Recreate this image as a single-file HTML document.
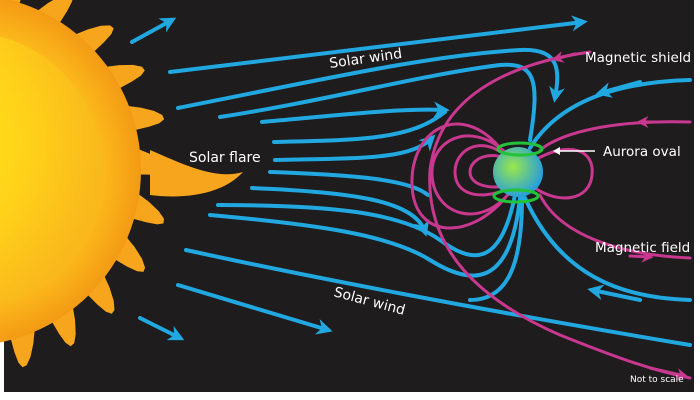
<!DOCTYPE html>
<html><head><meta charset="utf-8"><style>
html,body{margin:0;padding:0;background:#fff}
svg{display:block}
text{font-family:"DejaVu Sans","Liberation Sans",sans-serif;fill:#fff}
</style></head><body>
<svg width="700" height="400" viewBox="0 0 700 400">
<defs>
<radialGradient id="sunG" cx="0.3" cy="0.4" r="0.7"><stop offset="0" stop-color="#fff21a"/><stop offset="0.6" stop-color="#ffd21a"/><stop offset="1" stop-color="#f9b81c"/></radialGradient>
<radialGradient id="flG" cx="0.5" cy="0.5" r="0.5"><stop offset="0.7" stop-color="#ffc41e"/><stop offset="1" stop-color="#f39a14"/></radialGradient>
<radialGradient id="earthG" cx="0.4" cy="0.4" r="0.6"><stop offset="0" stop-color="#9be84a"/><stop offset="1" stop-color="#2aa0d8"/></radialGradient>
<marker id="ab" viewBox="0 0 10 10" refX="7" refY="5" markerWidth="4" markerHeight="4" orient="auto"><path d="M0,0 L10,5 L0,10 L3,5z" fill="#22a8e0"/></marker>
<marker id="am" viewBox="0 0 10 10" refX="7" refY="5" markerWidth="4" markerHeight="4" orient="auto"><path d="M0,0 L10,5 L0,10 L3,5z" fill="#c8388f"/></marker>
</defs>
<rect x="0" y="0" width="700" height="400" fill="#fff"/>
<rect x="4" y="0" width="690" height="392" fill="#1e1c1d"/>
<g id="sun"></g>
<g fill="none" stroke="#22a8e0" stroke-width="4" stroke-linecap="round">
<path d="M132,42 L172,20" marker-end="url(#ab)"/>
<path d="M170,72 L583,22" marker-end="url(#ab)"/>
<path d="M178,108 C320,80 430,55 520,50 C560,48 560,70 555,98" marker-end="url(#ab)"/>
<path d="M220,117 C330,100 420,75 500,65 C535,62 540,80 530,140"/>
<path d="M262,122 C340,115 400,108 445,110" marker-end="url(#ab)"/>
<path d="M274,142 C360,140 410,140 445,112"/>
<path d="M275,160 C360,158 410,160 432,138" marker-end="url(#ab)"/>
<path d="M270,172 C360,175 410,180 428,195" />
<path d="M252,188 C350,192 415,200 425,232" marker-end="url(#ab)"/>
<path d="M218,205 C330,205 400,212 440,240 C470,262 500,270 515,195"/>
<path d="M210,215 C320,225 390,235 430,260 C470,285 510,290 520,198"/>
<path d="M186,250 C300,275 480,310 690,345"/>
<path d="M178,285 L328,330" marker-end="url(#ab)"/>
<path d="M140,318 L180,338" marker-end="url(#ab)"/>
<path d="M690,80 C620,82 560,100 530,148" />
<path d="M640,82 L600,93" marker-end="url(#ab)"/>
<path d="M690,300 C620,298 560,275 525,198"/>
<path d="M640,300 L592,290" marker-end="url(#ab)"/>
<path d="M470,300 C510,300 522,260 522,198"/>
</g>
<g fill="none" stroke="#c8388f" stroke-width="3" stroke-linecap="round">
<path d="M590,52 C520,62 440,90 430,170 C425,250 480,300 560,335 C610,355 650,370 690,378"/>
<path d="M555,60 L575,55" marker-end="url(#am)" transform="rotate(180 565 57)"/>
<path d="M505,152 C470,120 430,140 432,175 C434,215 480,230 510,192"/>
<path d="M505,155 C480,135 455,150 455,172 C455,195 480,200 505,190"/>
<path d="M508,160 C492,150 470,158 470,172 C470,185 490,190 508,185"/>
<path d="M500,148 C460,100 410,130 412,185 C414,240 470,240 505,198"/>
<path d="M535,160 C570,140 595,150 592,175 C590,200 560,205 535,188"/>
<path d="M690,122 C620,120 565,130 540,150"/>
<path d="M690,258 C620,255 560,235 540,195"/>
<path d="M630,256 L650,257" marker-end="url(#am)"/>
<path d="M660,122 L640,122" marker-end="url(#am)"/>
<path d="M650,368 L685,376" marker-end="url(#am)"/>
</g>
<g>
<circle cx="518" cy="172" r="25" fill="url(#earthG)"/>
<ellipse cx="520" cy="149" rx="22" ry="6" fill="none" stroke="#22c33a" stroke-width="3"/>
<ellipse cx="516" cy="196" rx="22" ry="6" fill="none" stroke="#22c33a" stroke-width="3"/>
</g>
<line x1="595" y1="151" x2="556" y2="151" stroke="#fff" stroke-width="1.5"/>
<path d="M553,151 L560,147 L560,155z" fill="#fff"/>
<text x="330" y="68" font-size="14" transform="rotate(-8 330 68)">Solar wind</text>
<text x="333" y="296" font-size="14" transform="rotate(15 333 296)">Solar wind</text>
<text x="189" y="162" font-size="14">Solar flare</text>
<text x="585" y="62" font-size="13.5">Magnetic shield</text>
<text x="603" y="156" font-size="13.5">Aurora oval</text>
<text x="595" y="252" font-size="13.5">Magnetic field</text>
<text x="630" y="382" font-size="9">Not to scale</text>
</svg>
<script>
var g=document.getElementById('sun');
var cx=-35,cy=170,n=15,pts=[];
var steps=12;
for(var i=0;i<=n*steps;i++){
  var a=-Math.PI/2-0.35+ (Math.PI+0.7)*i/(n*steps);
  var ph=(i%steps)/steps;
  var r=172+ (ph<0.6? 34*Math.sin(ph/0.6*Math.PI):-6*Math.sin((ph-0.6)/0.4*Math.PI));
  var aa=a+ (ph<0.6?0.05*Math.sin(ph/0.6*Math.PI):0);
  pts.push((cx+r*Math.cos(aa)).toFixed(1)+','+(cy+r*Math.sin(aa)).toFixed(1));
}
var p=document.createElementNS('http://www.w3.org/2000/svg','polygon');
p.setAttribute('points',pts.join(' ')+' '+cx+','+cy);
p.setAttribute('fill','#f7a51c');


g.appendChild(p);
var f=document.createElementNS('http://www.w3.org/2000/svg','path');
f.setAttribute('d','M150,150 C185,165 215,180 243,172 C225,192 190,200 150,195z');
f.setAttribute('fill','#f7a51c');


g.appendChild(f);
var c=document.createElementNS('http://www.w3.org/2000/svg','circle');
c.setAttribute('cx',cx);c.setAttribute('cy',cy);c.setAttribute('r',176);
c.setAttribute('fill','url(#flG)');


g.appendChild(c);
var d=document.createElementNS('http://www.w3.org/2000/svg','circle');
d.setAttribute('cx',cx);d.setAttribute('cy',cy);d.setAttribute('r',138);
d.setAttribute('fill','url(#sunG)');


g.appendChild(d);
</script>
</body></html>
